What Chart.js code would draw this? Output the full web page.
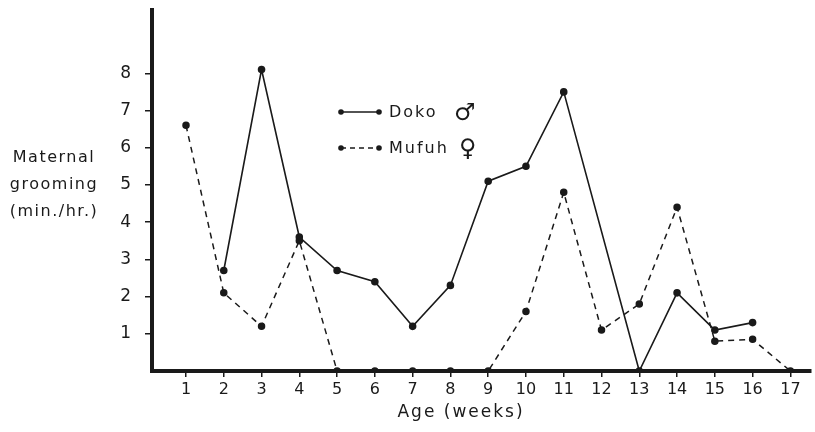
<!DOCTYPE html>
<html>
<head>
<meta charset="utf-8">
<script src="https://cdn.jsdelivr.net/npm/chart.js@4"></script>
<style>
  html, body { margin: 0; padding: 0; background: #fff; }
  #wrap { width: 815px; height: 432px; }
</style>
</head>
<body>
<div id="wrap"><canvas id="groomChart" width="815" height="432"></canvas></div>
<script>
// weeks of age
var weeks = [1, 2, 3, 4, 5, 6, 7, 8, 9, 10, 11, 12, 13, 14, 15, 16, 17];
// minutes of maternal grooming per hour
var doko  = [null, 2.7, 8.1, 3.6, 2.7, 2.4, 1.2, 2.3, 5.1, 5.5, 7.5, null, 0, 2.1, 1.1, 1.3, null];
var mufuh = [6.6, 2.1, 1.2, 3.5, 0, 0, 0, 0, 0, 1.6, 4.8, 1.1, 1.8, 4.4, 0.8, 0.85, 0];
var yTicks = [1, 2, 3, 4, 5, 6, 7, 8];
var yTitle = ['Maternal', 'grooming', '(min./hr.)'];
var xTitle = 'Age (weeks)';
var legendItems = [
  { label: 'Doko', sign: '\u2642', dash: [] },
  { label: 'Mufuh', sign: '\u2640', dash: [5, 4] }
];

var ink = '#1a1a1a';

function pts(vals) {
  var out = [];
  for (var i in weeks) {
    out.push({ x: weeks[i], y: vals[i] });
  }
  return out;
}

var extras = {
  id: 'extras',
  afterDraw: function(chart) {
    var ctx = chart.ctx;
    ctx.save();
    ctx.fillStyle = ink;
    ctx.strokeStyle = ink;
    ctx.letterSpacing = '1.5px';
    // left title, horizontal
    ctx.font = '16px "DejaVu Sans"';
    ctx.textAlign = 'center';
    ctx.textBaseline = 'middle';
    for (var i = 0; i < yTitle.length; i++) {
      ctx.fillText(yTitle[i], 54, 158 + i * 27);
    }
    // bottom title
    ctx.letterSpacing = '2px';
    ctx.font = '17px "DejaVu Sans"';
    ctx.fillText(xTitle, 461, 413);
    // legend
    for (var j = 0; j < legendItems.length; j++) {
      var it = legendItems[j];
      var y = 112 + j * 36;
      ctx.lineWidth = 1.5;
      ctx.setLineDash(it.dash);
      ctx.beginPath();
      ctx.moveTo(341, y);
      ctx.lineTo(379, y);
      ctx.stroke();
      ctx.setLineDash([]);
      ctx.beginPath(); ctx.arc(341, y, 2.8, 0, Math.PI * 2); ctx.fill();
      ctx.beginPath(); ctx.arc(379, y, 2.8, 0, Math.PI * 2); ctx.fill();
      ctx.textAlign = 'left';
      ctx.letterSpacing = '2px';
      ctx.font = '16px "DejaVu Sans"';
      ctx.fillText(it.label, 389, y + 1);
      ctx.letterSpacing = '0px';
      ctx.font = '24px "DejaVu Sans"';
      ctx.fillText(it.sign, j == 0 ? 454 : 459, y + 2);
    }
    ctx.restore();
  }
};

const data = {
  datasets: [{
    label: 'Doko',
    data: pts(doko),
    borderColor: ink,
    backgroundColor: ink,
    borderWidth: 1.6,
    pointRadius: 3,
    pointHoverRadius: 3,
    spanGaps: true,
    tension: 0
  },
  {
    label: 'Mufuh',
    data: pts(mufuh),
    borderColor: ink,
    backgroundColor: ink,
    borderWidth: 1.5,
    borderDash: [6, 5],
    pointRadius: 3,
    pointHoverRadius: 3,
    tension: 0
  }]
};

const config = {
  type: 'line',
  data,
  plugins: [extras],
  options: {
    responsive: false,
    animation: false,
    layout: { padding: { top: 10, right: 0, left: 0, bottom: 0 } },
    plugins: {
      legend: { display: false },
      tooltip: { enabled: false }
    },
    scales: {
      x: {
        type: 'linear',
        min: 0.1,
        max: 17.53,
        afterBuildTicks: function(scale) {
          scale.ticks = weeks.map(function(w) { return { value: w }; });
        },
        afterFit: function(scale) {
          scale.height = 61;
          scale.paddingLeft = 0;
          scale.paddingRight = 0;
        },
        border: { color: ink, width: 4 },
        grid: { drawOnChartArea: false, color: ink, tickLength: 6, lineWidth: 1.5 },
        ticks: { color: ink, font: { family: 'DejaVu Sans', size: 16 }, padding: 3, maxRotation: 0, autoSkip: false }
      },
      y: {
        min: 0,
        max: 9.7,
        afterBuildTicks: function(scale) {
          scale.ticks = yTicks.map(function(v) { return { value: v }; });
        },
        afterFit: function(scale) {
          scale.width = 152;
          scale.paddingTop = 0;
          scale.paddingBottom = 0;
        },
        border: { color: ink, width: 4 },
        grid: { drawOnChartArea: false, color: ink, tickLength: 7, lineWidth: 1.5 },
        ticks: { color: ink, font: { family: 'DejaVu Sans', size: 17 }, padding: 14 }
      }
    }
  }
};

var myChart = new Chart(document.getElementById('groomChart'), config);
</script>
</body>
</html>
